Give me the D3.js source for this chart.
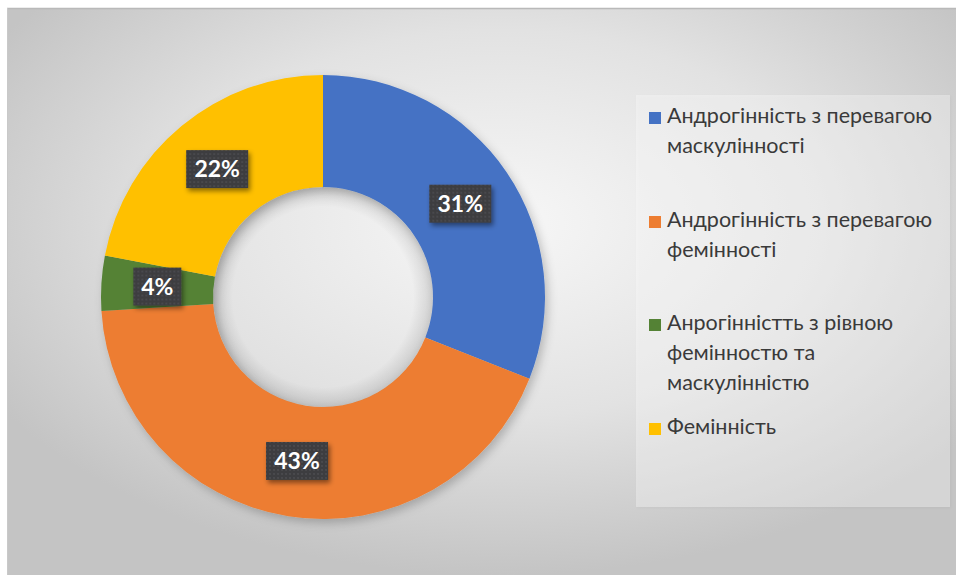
<!DOCTYPE html>
<html>
<head>
<meta charset="utf-8">
<script src="https://cdn.jsdelivr.net/npm/d3@7"></script>
<style>
  html, body { margin: 0; padding: 0; background: #ffffff; }
  svg { display: block; }
</style>
</head>
<body>
<svg id="chart" width="958" height="583"></svg>
<script>
// Category names, split into the lines shown in the legend
const categoryLines = [
  ["Андрогінність з перевагою", "маскулінності"],
  ["Андрогінність з перевагою", "фемінності"],
  ["Анрогінністть з рівною", "фемінностю та", "маскулінністю"],
  ["Фемінність"]
];
// Share of each category, percent
const shares = [31, 43, 4, 22];
const colors = ["#4472c4", "#ed7d31", "#548235", "#ffc000"];

const W = 958, H = 583;
const svg = d3.select("#chart");
const defs = svg.append("defs");

// Background gradient of the chart area
const bg = defs.append("radialGradient").attr("id", "bgGrad")
  .attr("cx", "52%").attr("cy", "38%").attr("r", "62%");
bg.append("stop").attr("offset", "0%").attr("stop-color", "#f7f7f7");
bg.append("stop").attr("offset", "55%").attr("stop-color", "#e2e2e2");
bg.append("stop").attr("offset", "100%").attr("stop-color", "#c4c4c4");

// Soft shadow for the ring
const ringShadow = defs.append("filter").attr("id", "ringShadow")
  .attr("x", "-20%").attr("y", "-20%").attr("width", "140%").attr("height", "140%");
ringShadow.append("feDropShadow").attr("dx", 3).attr("dy", 4)
  .attr("stdDeviation", 5).attr("flood-color", "#000").attr("flood-opacity", 0.22);

// Shadow inside the hole
const holeGrad = defs.append("radialGradient").attr("id", "holeGrad")
  .attr("cx", "50%").attr("cy", "50%").attr("r", "50%");
holeGrad.append("stop").attr("offset", "82%").attr("stop-color", "#000").attr("stop-opacity", 0);
holeGrad.append("stop").attr("offset", "100%").attr("stop-color", "#000").attr("stop-opacity", 0.12);

// Shadow for value labels
const labelShadow = defs.append("filter").attr("id", "labelShadow")
  .attr("x", "-30%").attr("y", "-30%").attr("width", "160%").attr("height", "160%");
labelShadow.append("feDropShadow").attr("dx", 2).attr("dy", 3)
  .attr("stdDeviation", 2.5).attr("flood-color", "#000").attr("flood-opacity", 0.45);

// Dotted texture of value label boxes
const pat = defs.append("pattern").attr("id", "dots")
  .attr("width", 4).attr("height", 4).attr("patternUnits", "userSpaceOnUse");
pat.append("rect").attr("width", 4).attr("height", 4).attr("fill", "#3d3d3f");
pat.append("circle").attr("cx", 1).attr("cy", 1).attr("r", 0.7).attr("fill", "#5a5a66");

// Legend panel shadow
const legendShadow = defs.append("filter").attr("id", "legendShadow")
  .attr("x", "-10%").attr("y", "-10%").attr("width", "120%").attr("height", "120%");
legendShadow.append("feDropShadow").attr("dx", 1).attr("dy", 1)
  .attr("stdDeviation", 1.5).attr("flood-color", "#000").attr("flood-opacity", 0.12);

// Chart area
svg.append("rect")
  .attr("x", 7).attr("y", 8).attr("width", 949).attr("height", 567)
  .attr("fill", "url(#bgGrad)");
svg.append("line")
  .attr("x1", 7).attr("x2", 956).attr("y1", 8.5).attr("y2", 8.5)
  .attr("stroke", "#b9b9b9").attr("stroke-width", 1.5);
svg.append("line")
  .attr("x1", 7.5).attr("x2", 7.5).attr("y1", 8).attr("y2", 575)
  .attr("stroke", "#c9c9c9").attr("stroke-width", 1);

// Donut
const cx = 323, cy = 297, outerR = 222, innerR = 110;
const pie = d3.pie().sort(null).value(d => d)
  .startAngle(0).endAngle(2 * Math.PI);
const arcs = pie(shares);
const arc = d3.arc().innerRadius(innerR).outerRadius(outerR);
const labelArc = d3.arc().innerRadius((innerR + outerR) / 2).outerRadius((innerR + outerR) / 2);

const ring = svg.append("g").attr("transform", `translate(${cx},${cy})`);
ring.append("g").attr("filter", "url(#ringShadow)")
  .selectAll("path").data(arcs).join("path")
  .attr("d", arc)
  .attr("fill", (d, i) => colors[i]);
ring.append("circle").attr("r", innerR).attr("fill", "url(#holeGrad)");

// Value labels
const lab = ring.selectAll("g.lab").data(arcs).join("g")
  .attr("class", "lab")
  .attr("transform", d => {
    const [x, y] = labelArc.centroid(d);
    return `translate(${x},${y})`;
  });
lab.each(function (d) {
  const g = d3.select(this);
  const txt = d.data + "%";
  const w = txt.length === 2 ? 48 : 62;
  g.append("rect")
    .attr("x", -w / 2).attr("y", -19).attr("width", w).attr("height", 38)
    .attr("fill", "url(#dots)")
    .attr("filter", "url(#labelShadow)");
  g.append("text")
    .attr("text-anchor", "middle").attr("dy", "0.36em")
    .attr("font-family", "Lato, 'Open Sans', sans-serif")
    .attr("font-weight", "bold").attr("font-size", 23)
    .attr("fill", "#ffffff")
    .text(txt);
});

// Legend
svg.append("rect")
  .attr("x", 636).attr("y", 95).attr("width", 314).attr("height", 412)
  .attr("fill", "#ffffff").attr("fill-opacity", 0.32)
  .attr("filter", "url(#legendShadow)");

const legendTop = [123, 227, 330, 434];
const lineGap = 30;
const legend = svg.append("g").selectAll("g").data(categoryLines).join("g")
  .attr("transform", (d, i) => `translate(0,${legendTop[i]})`);
legend.append("rect")
  .attr("x", 649).attr("y", -11).attr("width", 12).attr("height", 12)
  .attr("fill", (d, i) => colors[i]);
legend.append("text")
  .attr("font-family", "Lato, 'Open Sans', sans-serif")
  .attr("font-size", 21.5).attr("fill", "#3a3a3a")
  .selectAll("tspan").data(d => d).join("tspan")
  .attr("x", 667).attr("y", (d, j) => j * lineGap)
  .text(d => d);
</script>
</body>
</html>
